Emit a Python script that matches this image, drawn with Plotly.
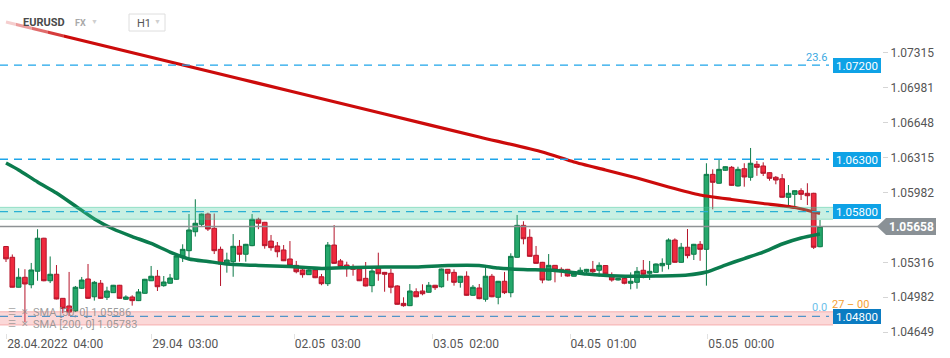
import plotly.graph_objects as go

# ---------------- data ----------------
opens = [1.05467, 1.05364, 1.05078, 1.05173, 1.05102, 1.05231, 1.05546, 1.05140, 1.05202, 1.04972,
         1.04899, 1.04851, 1.05068, 1.05157, 1.04987, 1.05116, 1.04982, 1.05026, 1.05097, 1.04963,
         1.04985, 1.04950, 1.05020, 1.05140, 1.05183, 1.05093, 1.05116, 1.05154, 1.05376, 1.05427,
         1.05608, 1.05679, 1.05777, 1.05641, 1.05440, 1.05297, 1.05322, 1.05469, 1.05393, 1.05475,
         1.05727, 1.05698, 1.05519, 1.05472, 1.05434, 1.05348, 1.05287, 1.05243, 1.05198, 1.05243,
         1.05178, 1.05112, 1.05481, 1.05329, 1.05290, 1.05264, 1.05252, 1.05163, 1.05093, 1.05264,
         1.05220, 1.05211, 1.05090, 1.04924, 1.04902, 1.05035, 1.05042, 1.05030, 1.05097, 1.05083,
         1.05249, 1.05220, 1.05125, 1.05183, 1.05001, 1.05071, 1.04963, 1.05183, 1.04982, 1.05135,
         1.05026, 1.05364, 1.05669, 1.05555, 1.05383, 1.05316, 1.05147, 1.05287, 1.05249, 1.05249,
         1.05183, 1.05207, 1.05226, 1.05249, 1.05240, 1.05285, 1.05178, 1.05147, 1.05163, 1.05116,
         1.05125, 1.05240, 1.05211, 1.05220, 1.05283, 1.05297, 1.05529, 1.05316, 1.05460, 1.05393,
         1.05488, 1.05440, 1.06156, 1.06071, 1.06195, 1.06223, 1.06045, 1.06210, 1.06128, 1.06252,
         1.06236, 1.06172, 1.06128, 1.06114, 1.05937, 1.05965, 1.06000, 1.05975, 1.05975, 1.05465]
highs = [1.05472, 1.05391, 1.05259, 1.05250, 1.05310, 1.05632, 1.05550, 1.05372, 1.05290, 1.04975,
         1.05224, 1.05090, 1.05176, 1.05300, 1.05138, 1.05147, 1.05083, 1.05100, 1.05100, 1.05001,
         1.05001, 1.05061, 1.05158, 1.05281, 1.05243, 1.05185, 1.05205, 1.05405, 1.05488, 1.05777,
         1.05918, 1.05782, 1.05790, 1.05782, 1.05466, 1.05408, 1.05586, 1.05529, 1.05492, 1.05777,
         1.05742, 1.05702, 1.05577, 1.05510, 1.05481, 1.05519, 1.05329, 1.05268, 1.05281, 1.05268,
         1.05205, 1.05510, 1.05672, 1.05348, 1.05322, 1.05297, 1.05274, 1.05319, 1.05259, 1.05408,
         1.05224, 1.05252, 1.05097, 1.04982, 1.05109, 1.05068, 1.05106, 1.05128, 1.05100, 1.05256,
         1.05252, 1.05249, 1.05186, 1.05230, 1.05099, 1.05109, 1.05268, 1.05205, 1.05138, 1.05224,
         1.05402, 1.05768, 1.05708, 1.05632, 1.05472, 1.05320, 1.05395, 1.05290, 1.05268, 1.05253,
         1.05212, 1.05268, 1.05253, 1.05329, 1.05316, 1.05290, 1.05220, 1.05167, 1.05167, 1.05220,
         1.05271, 1.05338, 1.05329, 1.05305, 1.05354, 1.05545, 1.05545, 1.05501, 1.05634, 1.05492,
         1.05519, 1.06262, 1.06204, 1.06303, 1.06233, 1.06236, 1.06229, 1.06262, 1.06408, 1.06283,
         1.06271, 1.06176, 1.06140, 1.06159, 1.06054, 1.06004, 1.06023, 1.06071, 1.05980, 1.05720]
lows = [1.05319, 1.05076, 1.05076, 1.04746, 1.05068, 1.05140, 1.05135, 1.05118, 1.04962, 1.04829,
        1.04803, 1.04841, 1.05061, 1.04966, 1.04950, 1.04966, 1.04956, 1.05023, 1.04968, 1.04956,
        1.04902, 1.04946, 1.05016, 1.05137, 1.05042, 1.05083, 1.05112, 1.05150, 1.05319, 1.05345,
        1.05562, 1.05653, 1.05615, 1.05395, 1.05090, 1.05217, 1.05178, 1.05322, 1.05322, 1.05470,
        1.05632, 1.05446, 1.05427, 1.05364, 1.05328, 1.05283, 1.05211, 1.05169, 1.05195, 1.05165,
        1.05097, 1.05090, 1.05302, 1.05262, 1.05178, 1.05188, 1.05137, 1.05086, 1.05030, 1.05140,
        1.05035, 1.05020, 1.04911, 1.04892, 1.04898, 1.04983, 1.05001, 1.05026, 1.05052, 1.05074,
        1.05140, 1.05093, 1.05074, 1.04997, 1.04997, 1.04963, 1.04940, 1.04983, 1.04915, 1.05013,
        1.04982, 1.05360, 1.05488, 1.05370, 1.05302, 1.05116, 1.05143, 1.05125, 1.05178, 1.05180,
        1.05180, 1.05204, 1.05202, 1.05195, 1.05178, 1.05200, 1.05131, 1.05143, 1.05106, 1.05058,
        1.05064, 1.05163, 1.05147, 1.05216, 1.05226, 1.05249, 1.05312, 1.05312, 1.05354, 1.05338,
        1.05331, 1.05093, 1.05822, 1.06066, 1.06190, 1.06047, 1.06040, 1.06038, 1.06095, 1.06142,
        1.06140, 1.06095, 1.06061, 1.05932, 1.05847, 1.05847, 1.05911, 1.05863, 1.05443, 1.05460]
closes = [1.05349, 1.05078, 1.05173, 1.05109, 1.05243, 1.05546, 1.05140, 1.05202, 1.04966, 1.04877,
          1.04841, 1.05078, 1.05147, 1.04972, 1.05125, 1.04972, 1.05042, 1.05097, 1.04972, 1.04985,
          1.04950, 1.05033, 1.05154, 1.05183, 1.05083, 1.05128, 1.05166, 1.05376, 1.05440, 1.05625,
          1.05689, 1.05777, 1.05634, 1.05427, 1.05300, 1.05338, 1.05469, 1.05393, 1.05488, 1.05727,
          1.05689, 1.05475, 1.05456, 1.05417, 1.05331, 1.05287, 1.05226, 1.05198, 1.05243, 1.05169,
          1.05112, 1.05481, 1.05306, 1.05274, 1.05268, 1.05249, 1.05140, 1.05090, 1.05233, 1.05207,
          1.05202, 1.05078, 1.04915, 1.04902, 1.05042, 1.04987, 1.05016, 1.05097, 1.05074, 1.05252,
          1.05211, 1.05125, 1.05183, 1.05001, 1.05078, 1.04969, 1.05183, 1.04987, 1.05135, 1.05026,
          1.05373, 1.05669, 1.05541, 1.05373, 1.05306, 1.05147, 1.05287, 1.05243, 1.05226, 1.05185,
          1.05207, 1.05240, 1.05249, 1.05226, 1.05287, 1.05204, 1.05147, 1.05163, 1.05116, 1.05135,
          1.05230, 1.05202, 1.05230, 1.05300, 1.05306, 1.05529, 1.05316, 1.05460, 1.05380, 1.05488,
          1.05440, 1.06156, 1.06080, 1.06204, 1.06229, 1.06051, 1.06204, 1.06131, 1.06262, 1.06223,
          1.06166, 1.06118, 1.06102, 1.05937, 1.05975, 1.06000, 1.05965, 1.05952, 1.05460, 1.05658]

# moving averages read at sampled bars
sma50_bars = [0, 2, 5, 8, 11, 14, 17, 20, 23, 26, 29, 32, 35, 40, 45, 50, 55, 60, 65, 70,
              75, 78, 82, 87, 92, 97, 103, 108, 111, 114, 117, 120, 123, 126, 129]
sma50_vals = [1.06264, 1.06198, 1.06083, 1.05978, 1.05854, 1.05730, 1.05634, 1.05562, 1.05496, 1.05414,
              1.05348, 1.05324, 1.05300, 1.05286, 1.05276, 1.05257, 1.05267, 1.05271, 1.05271, 1.05286,
              1.05286, 1.05262, 1.05247, 1.05238, 1.05204, 1.05185, 1.05185, 1.05195, 1.05223, 1.05290,
              1.05352, 1.05414, 1.05491, 1.05548, 1.05586]
sma200_bars = [0, 15, 30, 45, 60, 75, 85, 90, 95, 100, 105, 110, 115, 120, 125, 129]
sma200_vals = [1.07611, 1.07391, 1.07172, 1.06952, 1.06732, 1.06513, 1.06369, 1.06274, 1.06198, 1.06121,
               1.06035, 1.05959, 1.05916, 1.05878, 1.05839, 1.05783]

x_tick_bars = [0.1, 23.1, 45.7, 67.6, 89.4, 111.2]
x_tick_text = ["28.04.2022  04:00", "29.04  03:00", "02.05  03:00", "03.05  02:00",
               "04.05  01:00", "05.05  00:00"]
y_tick_vals = [1.04649, 1.04982, 1.05316, 1.05982, 1.06315, 1.06648, 1.06981, 1.07315]

level_prices = [1.07200, 1.06300, 1.05800, 1.04800]
green_zone = [1.05727, 1.05841]
red_zone = [1.04717, 1.04844]

# ---------------- geometry ----------------
W, H = 950, 358
B = 25
PLOT_H = H - B
PLOT_R = 833
Y_RANGE = [1.04641, 1.07821]
X_RANGE = [-0.951, 131.06]
PP = (Y_RANGE[1] - Y_RANGE[0]) / PLOT_H  # price per pixel
FONT = "Roboto"


def px(x):
    return x / W


def py(y):
    return 1 - y / PLOT_H


fig = go.Figure()
fig.add_trace(go.Candlestick(
    x=list(range(len(opens))), open=opens, high=highs, low=lows, close=closes,
    increasing=dict(line=dict(color="#0c7a48", width=1), fillcolor="#25a86b"),
    decreasing=dict(line=dict(color="#b5152b", width=1), fillcolor="#ef2a3e"),
    whiskerwidth=0, hoverinfo="skip", showlegend=False))
fig.add_trace(go.Scatter(x=sma200_bars, y=sma200_vals, mode="lines",
                         line=dict(color="#cc0b0b", width=3.2, shape="spline", smoothing=0.6),
                         hoverinfo="skip", showlegend=False))
fig.add_trace(go.Scatter(x=sma50_bars, y=sma50_vals, mode="lines",
                         line=dict(color="#0b7c4e", width=3.5, shape="spline", smoothing=0.6),
                         hoverinfo="skip", showlegend=False))

shapes = []
# fade at the top-left corner
for i, op in enumerate([0.8, 0.6, 0.4, 0.2]):
    shapes.append(dict(type="rect", xref="paper", yref="paper", layer="above",
                       x0=px(i * 16), x1=px(i * 16 + 16), y0=py(45), y1=py(8),
                       fillcolor="white", opacity=op, line=dict(width=0)))
# dashed levels
for lv in level_prices:
    shapes.append(dict(type="line", xref="paper", yref="y", layer="above",
                       x0=0, x1=px(829), y0=lv, y1=lv,
                       line=dict(color="#1ea5ea", width=1.3, dash="8px,6px")))
# current price line
shapes.append(dict(type="line", xref="paper", yref="y", layer="above",
                   x0=0, x1=px(878), y0=closes[-1], y1=closes[-1],
                   line=dict(color="#8e9295", width=1.3)))
# zones
for (z0, z1), fill, edge in [(green_zone, "rgba(72,205,162,0.30)", "rgba(60,195,150,0.45)"),
                             (red_zone, "rgba(240,100,100,0.25)", "rgba(235,90,90,0.40)")]:
    shapes.append(dict(type="rect", xref="paper", yref="y", layer="above",
                       x0=0, x1=px(PLOT_R), y0=z0, y1=z1, fillcolor=fill, line=dict(width=0)))
    for zz in (z0, z1):
        shapes.append(dict(type="line", xref="paper", yref="y", layer="above",
                           x0=0, x1=px(PLOT_R), y0=zz, y1=zz, line=dict(color=edge, width=1)))
# H1 box
shapes.append(dict(type="rect", xref="paper", yref="paper", layer="above",
                   x0=px(129), x1=px(165), y0=py(31), y1=py(14),
                   fillcolor="white", line=dict(color="#dedede", width=1)))
# current price arrow label
c = closes[-1]
hh = 8.5 * PP
shapes.append(dict(type="path", xref="paper", yref="y", layer="above",
                   path=(f"M {px(877)},{c} L {px(886)},{c + hh} L {px(936)},{c + hh} "
                         f"L {px(936)},{c - hh} L {px(886)},{c - hh} Z"),
                   fillcolor="#8a9196", line=dict(width=0)))

ann = []


def text(x, y, s, size, color, xanchor="left", yref="paper", **kw):
    ann.append(dict(x=x, y=y, xref="paper", yref=yref, text=s, showarrow=False,
                    xanchor=xanchor, yanchor="middle",
                    font=dict(family=FONT, size=size, color=color), **kw))


# header
text(px(21), py(22.5), "<b>EURUSD</b>", 11, "#4a4a4a")
text(px(73), py(23), "<b>FX</b>", 9, "#a9a9a9")
text(px(89), py(21.5), "▼", 7, "#cfcfcf")
text(px(135), py(23), "H1", 11, "#555555")
text(px(152), py(22.5), "▼", 7, "#cfcfcf")

# fib texts
text(px(829), py(58), "23.6", 11, "#3aa9e2", xanchor="right")
text(px(829), py(307), "0.0", 11, "#6cc0ea", xanchor="right")
text(px(830), py(304), "27 – 00", 11, "#f5a032")

# level boxes
for lv in level_prices:
    bg = "#0b7cc2" if lv == level_prices[-1] else "#0ea2e6"
    ann.append(dict(x=px(PLOT_R), y=lv, xref="paper", yref="y", text=f"{lv:.5f}",
                    showarrow=False, xanchor="left", yanchor="middle",
                    width=48, height=15, borderpad=0, borderwidth=0, bgcolor=bg,
                    font=dict(family=FONT, size=11.5, color="white")))
# current price text
text(px(911), c, f"<b>{c:.5f}</b>", 12, "white", xanchor="center", yref="y")

# indicator legend
for row_y, name, val in [(312, "SMA [50, 0]", sma50_vals[-1]), (324, "SMA [200, 0]", sma200_vals[-1])]:
    text(px(6), py(row_y), "☰", 9, "rgba(140,140,140,0.8)")
    text(px(19), py(row_y), "✕", 9, "rgba(140,140,140,0.8)")
    text(px(31), py(row_y), f"{name} {val:.5f}", 11, "rgba(140,140,140,0.85)")

fig.update_layout(
    width=W, height=H, margin=dict(l=0, r=0, t=0, b=B),
    paper_bgcolor="white", plot_bgcolor="white", showlegend=False,
    font=dict(family=FONT), boxgap=0.15, boxgroupgap=0.13,
    shapes=shapes, annotations=ann,
    xaxis=dict(domain=[0, px(PLOT_R)], range=X_RANGE, showgrid=False, zeroline=False,
               showline=False, tickmode="array", tickvals=x_tick_bars, ticktext=x_tick_text,
               ticks="outside", ticklen=5, tickcolor="#e2e2e2",
               ticklabelposition="outside right",
               tickfont=dict(family=FONT, size=12, color="#555555"),
               rangeslider=dict(visible=False), fixedrange=True),
    yaxis=dict(range=Y_RANGE, anchor="free", position=px(882), side="right",
               showgrid=False, zeroline=False, showline=False,
               tickmode="array", tickvals=y_tick_vals, tickformat=".5f",
               ticks="outside", ticklen=5, tickcolor="#d5d5d5",
               tickfont=dict(family=FONT, size=12, color="#555555"), fixedrange=True),
)

fig.write_html("out.html", config={"displayModeBar": False},
               post_script="document.body.style.margin='0';document.body.style.padding='0';")
